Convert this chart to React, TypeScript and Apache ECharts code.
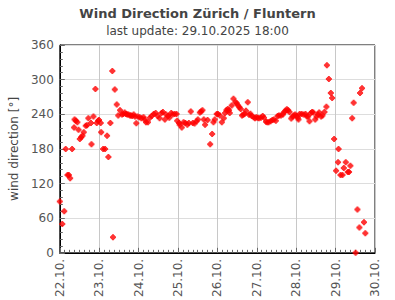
import React, { useEffect, useRef } from "react";
import * as echarts from "echarts";

// hours since 22.10. 00:00
const hours = [
  0, 1.5, 2.7, 3.6, 4.7, 5.5, 6.3, 7.5, 8.7, 9, 9.8, 10.7, 11.4, 12.2, 13, 13.8, 14.6, 15.8, 16.6, 17.4,
  19, 19.3, 20.5, 21.7, 22.5, 23.3, 23.9, 24.9, 25.2, 26.4, 27.6, 28.8, 29.6, 30.8, 32, 32.4, 33.5, 34.7,
  35.6, 36.7, 37.9, 38.7, 39.5, 40.3, 41.1, 41.8, 42.7, 43.4, 44.2, 45, 45.8, 46.6, 47.4, 48.6, 49.7, 51,
  51.7, 52.5, 53.7, 54.9, 56, 57.2, 58.4, 59.6, 60.8, 62, 62.8, 64, 64.8, 66, 66.7, 67.9, 68.7, 69.9, 71.1,
  71.5, 72.7, 73, 74.3, 75.4, 76.5, 77.7, 78.6, 79.8, 81, 82.1, 83.3, 84.1, 85.3, 86.1, 86.9, 87.7, 88.5,
  90, 91.6, 92.8, 93.6, 94.4, 95.6, 96.4, 97.5, 98.7, 99.9, 100.7, 101.5, 102.3, 103.1, 103.5, 104.7,
  105.8, 107, 107.8, 108.6, 109.4, 110.2, 111, 111.8, 112.6, 113.4, 114.5, 115.3, 116.1, 116.9, 118.1,
  118.9, 119.7, 120.5, 121.3, 122.5, 123.6, 124.4, 125.6, 126.4, 127.2, 128.4, 129.5, 130.4, 131.6, 132.7,
  133.5, 134.7, 135.9, 136.7, 137.5, 138.3, 139.1, 139.9, 141, 141.8, 142.6, 143.4, 144.2, 145, 145.4,
  146.1, 147.3, 148.5, 149.7, 150.5, 151.3, 152.1, 152.9, 153.7, 154.4, 155.6, 156.4, 157.2, 158, 159.2,
  160, 161.2, 162.4, 162.7, 163.9, 165.1, 165.9, 167.1, 168.3, 169.5, 169.8, 171, 172.2, 173, 174.2, 175.4,
  176.2, 177, 178.1, 179, 180.2, 181.3, 182.5, 182.9, 184.1, 185.3, 186.1,
];

// wind direction in degrees
const direction = [
  89, 50, 72, 180, 135, 135, 129, 180, 217, 231, 229, 226, 213, 197, 200, 203, 209, 220, 221, 233,
  225, 188, 236, 284, 225, 229, 230, 225, 209, 180, 180, 203, 166, 225, 315, 27, 283, 257,
  238, 247, 239.5, 240.5, 243, 240.5, 239.5, 239.5, 238, 238, 237, 239.5, 236, 224.6, 236, 235, 233, 235,
  231, 226, 226, 234, 237, 240.5, 242, 237, 233, 242, 244, 231, 239.5, 237, 234, 242, 239.5, 240.5, 240.5,
  229, 225, 222, 217, 226, 225, 222, 225, 245, 225, 224, 228, 231, 243, 245, 247, 231, 222,
  230, 188, 206, 226, 231, 240.5, 240.5, 238, 226, 233, 242, 247, 249, 247, 242, 255,
  267, 261, 259, 255, 252, 249, 238, 239, 241, 246, 261, 239, 241, 237, 235,
  233, 235, 234, 233, 234, 237, 234, 227, 226, 226, 228, 230, 231, 229, 237,
  238, 238, 239.5, 244, 246, 248.6, 247, 244, 232.6, 236, 238, 239.5, 237, 234, 231,
  240.5, 240.5, 239.5, 240.5, 236, 236, 228, 242, 244, 243, 231, 236, 239.5, 243, 236,
  238, 244, 253, 325, 301, 277, 268, 197, 142, 157, 180, 135, 135, 147, 157, 140,
  140, 151, 233, 260, 0, 75, 44, 277, 285, 53, 34,
];

const dayLabels = ["22.10.", "23.10.", "24.10.", "25.10.", "26.10.", "27.10.", "28.10.", "29.10.", "30.10."];

const FONT = "DejaVu Sans";

export default function App() {
  const ref = useRef<HTMLDivElement>(null);
  useEffect(() => {
    if (!ref.current) return;
    const chart = echarts.init(ref.current, undefined, { renderer: "svg" });
    const data = hours.map((h, i) => [h, direction[i]]);
    chart.setOption({
      animation: false,
      backgroundColor: "#fff",
      title: {
        text: "Wind Direction Zürich / Fluntern",
        subtext: "last update: 29.10.2025 18:00",
        left: "center",
        top: 2,
        itemGap: 5,
        textStyle: { fontFamily: FONT, fontSize: 13, fontWeight: "bold", color: "#444" },
        subtextStyle: { fontFamily: FONT, fontSize: 12, color: "#444" },
      },
      grid: {
        left: 51,
        right: 20,
        top: 45,
        bottom: 45,
        show: true,
        borderColor: "#000",
        borderWidth: 1,
        containLabel: false,
      },
      xAxis: {
        type: "value",
        min: 0,
        max: 192,
        interval: 24,
        axisLine: { show: true, lineStyle: { color: "#000", width: 1 } },
        axisTick: { show: true, inside: true, length: 5, lineStyle: { color: "#666" } },
        minorTick: { show: true, splitNumber: 8, length: 3, lineStyle: { color: "#666" } },
        splitLine: { show: true, lineStyle: { color: "#c8c8c8", width: 1 } },
        axisLabel: {
          rotate: 90,
          margin: 6,
          fontFamily: FONT,
          fontSize: 12,
          color: "#555",
          formatter: (v: number) => dayLabels[Math.round(v / 24)] ?? "",
        },
      },
      yAxis: {
        type: "value",
        min: 0,
        max: 360,
        interval: 60,
        name: "wind direction [°]",
        nameLocation: "middle",
        nameRotate: 90,
        nameGap: 35,
        nameTextStyle: { fontFamily: FONT, fontSize: 12, color: "#444" },
        axisLine: { show: true, lineStyle: { color: "#000", width: 1 } },
        axisTick: { show: true, inside: true, length: 5, lineStyle: { color: "#666" } },
        minorTick: { show: true, splitNumber: 5, length: 3, lineStyle: { color: "#666" } },
        splitLine: { show: true, lineStyle: { color: "#dddddd", width: 1 } },
        axisLabel: { fontFamily: FONT, fontSize: 12, color: "#555", margin: 6 },
      },
      series: [
        {
          type: "scatter",
          data,
          symbol: "path://M2,0H4V1H5V2H6V4H5V5H4V6H2V5H1V4H0V2H1V1H2Z",
          symbolSize: 6,
          itemStyle: { color: "#ff0000" },
        },
      ],
    });
    return () => chart.dispose();
  }, []);
  return <div ref={ref} style={{ width: 395, height: 300, position: "absolute", left: 0, top: 0 }} />;
}
